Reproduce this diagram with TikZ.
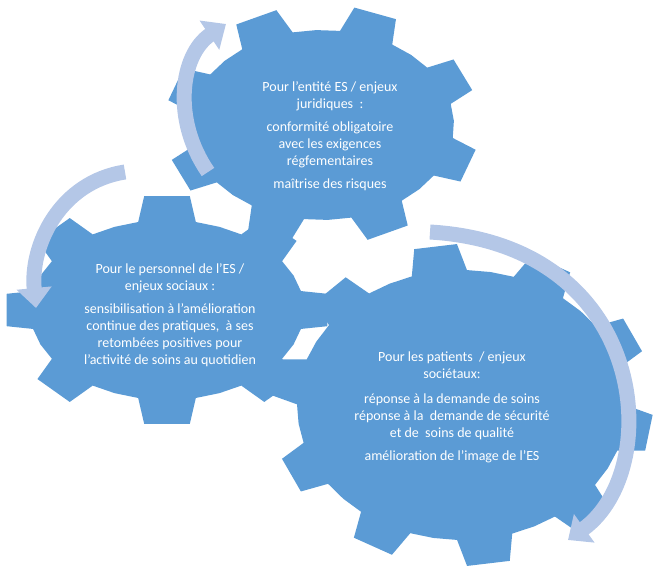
\documentclass[tikz,border=0pt]{standalone}
\usepackage{fontspec}
\setmainfont{Carlito}
\usetikzlibrary{arrows.meta}
\definecolor{gearblue}{HTML}{5B9BD5}
\definecolor{arrowblue}{HTML}{B4C7E7}
\newcommand{\gearpath}[7]{%
  \fill[gearblue] ({#1+#3*cos(#7-180/#5)},{#2+#4*sin(#7-180/#5)})
  \foreach \i in {1,...,#5}{
    -- ({#1+#3*cos(#7+\i*360/#5-360/#5-0.27*360/#5)},{#2+#4*sin(#7+\i*360/#5-360/#5-0.27*360/#5)})
    -- ({#1+(#3+#6)*cos(#7+\i*360/#5-360/#5-0.18*360/#5)},{#2+(#4+#6)*sin(#7+\i*360/#5-360/#5-0.18*360/#5)})
    -- ({#1+(#3+#6)*cos(#7+\i*360/#5-360/#5+0.18*360/#5)},{#2+(#4+#6)*sin(#7+\i*360/#5-360/#5+0.18*360/#5)})
    -- ({#1+#3*cos(#7+\i*360/#5-360/#5+0.27*360/#5)},{#2+#4*sin(#7+\i*360/#5-360/#5+0.27*360/#5)})
    -- ({#1+#3*cos(#7+\i*360/#5-180/#5)},{#2+#4*sin(#7+\i*360/#5-180/#5)})
  } -- cycle;}
\begin{document}
\begin{tikzpicture}[x=1pt,y=-1pt,
  txt/.style={text=white,font=\fontsize{14}{17}\selectfont,align=center,inner sep=0pt},
  cyc/.style={arrowblue,line width=15pt,-{Triangle[length=20pt,width=34pt]}}]
\useasboundingbox (0,0) rectangle (663,569);
\gearpath{462}{405}{165}{135}{10}{26}{10}
\gearpath{167}{310}{137}{90}{8}{25}{0}
\gearpath{322}{125}{132}{95}{8}{25}{20}
\node[txt] (t1) at (330,136) {Pour l'entité ES / enjeux\\juridiques\ \ :\\[6pt]conformité obligatoire\\avec les exigences\\régfementaires\\[6pt]maîtrise des risques};
\node[txt] (t2) at (170,315) {Pour le personnel de l'ES /\\enjeux sociaux :\\[6pt]sensibilisation à l'amélioration\\continue des pratiques,\ \ à ses\\retombées positives pour\\l'activité de soins au quotidien};
\node[txt] (t3) at (452,407) {Pour les patients\ \ / enjeux\\sociétaux:\\[8pt]réponse à la demande de soins\\réponse à la\ \ demande de sécurité\\et de\ \ soins de qualité\\[6pt]amélioration de l'image de l'ES};
\coordinate (a1s) at (208,172); \coordinate (a1e) at (226,24);
\coordinate (a2s) at (125,172); \coordinate (a2e) at (36,308);
\coordinate (a3s) at (430,232); \coordinate (a3e) at (568,540);
\draw[cyc] (a1s) .. controls (172,120) and (180,55) .. (a1e);
\draw[cyc] (a2s) .. controls (60,182) and (30,245) .. (a2e);
\draw[cyc] (a3s) .. controls (650,245) and (665,470) .. (a3e);
\end{tikzpicture}
\end{document}
